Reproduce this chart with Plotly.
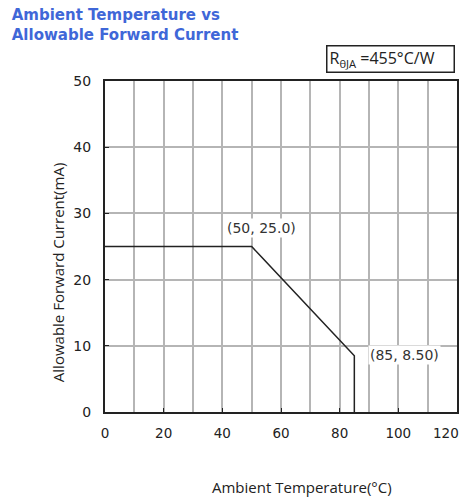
import plotly.graph_objects as go

temp = [0, 50, 85, 85]
current = [25.0, 25.0, 8.5, 0.0]
x_ticks = [0, 20, 40, 60, 80, 100, 120]
x_tick_labels = ["0", "20", "40", "60", "80", "100", "120"]
y_ticks = [0, 10, 20, 30, 40, 50]
point_labels = ["(50, 25.0)", "(85, 8.50)"]
point_x = [50, 85]
point_y = [25.0, 8.5]

fig = go.Figure()
fig.add_trace(go.Scatter(x=temp, y=current, mode="lines",
                         line=dict(color="#222222", width=1.5), showlegend=False))

fig.add_annotation(x=point_x[0], y=point_y[0], text=point_labels[0], showarrow=False,
                   xanchor="center", yanchor="middle", xshift=10, yshift=19,
                   font=dict(family="DejaVu Sans", size=14, color="#333"), bgcolor="white")
fig.add_annotation(x=point_x[1], y=point_y[1], text=point_labels[1], showarrow=False,
                   xanchor="left", yanchor="middle", xshift=14, yshift=1,
                   font=dict(family="DejaVu Sans", size=14, color="#333"), bgcolor="white")

# last x tick label drawn right-aligned so it stays inside the window
fig.add_annotation(x=x_ticks[-1], xref="x", yref="paper", y=0, text=x_tick_labels[-1], showarrow=False,
                   xanchor="right", yanchor="middle", xshift=4, yshift=-21,
                   font=dict(family="DejaVu Sans", size=13.5, color="#222"))

fig.add_annotation(xref="paper", yref="paper", x=0.9943, y=1.065, xanchor="right", yanchor="middle",
                   text="R<sub>θJA</sub> =455°C/W", showarrow=False,
                   font=dict(family="Open Sans", size=16, color="#222"),
                   bordercolor="#222", borderwidth=1.5, borderpad=2, bgcolor="white",
                   width=122, height=21, align="left")

fig.add_annotation(xref="paper", yref="paper", x=-0.133, y=0.42, xanchor="center", yanchor="middle",
                   text="Allowable Forward Current(mA)", textangle=-90, showarrow=False,
                   font=dict(family="Open Sans", size=15, color="#222"))

fig.add_annotation(xref="paper", yref="paper", x=0.56, y=-0.2266, xanchor="center", yanchor="middle",
                   text="Ambient Temperature(°C)", showarrow=False,
                   font=dict(family="Open Sans", size=15, color="#222"))

fig.update_layout(
    width=470, height=498,
    margin=dict(l=97, r=21, t=73, b=94),
    paper_bgcolor="white", plot_bgcolor="white",
    title=dict(text="Ambient Temperature vs<br>Allowable Forward Current",
               x=0.008, xanchor="left", y=0.975, yanchor="top",
               font=dict(family="DejaVu Sans", size=15, color="#3f67d8", weight="bold")),
    xaxis=dict(range=[0, 120], tickvals=x_ticks, ticktext=x_tick_labels[:-1] + [""],
               automargin=False,
               showgrid=True, gridcolor="#b5b5b5", gridwidth=1.5,
               minor=dict(dtick=10, showgrid=True, gridcolor="#b5b5b5", gridwidth=1.5),
               showline=True, linecolor="#222", linewidth=2, mirror=True,
               ticks="inside", ticklen=4, tickcolor="#222",
               ticklabelstandoff=8,
               tickfont=dict(family="DejaVu Sans", size=13.5, color="#222"),
               zeroline=False),
    yaxis=dict(range=[0, 50], tickvals=y_ticks, automargin=False,
               showgrid=True, gridcolor="#b5b5b5", gridwidth=1.5,
               showline=True, linecolor="#222", linewidth=2, mirror=True,
               ticks="inside", ticklen=4, tickcolor="#222",
               ticklabelstandoff=9,
               tickfont=dict(family="DejaVu Sans", size=14, color="#222"),
               zeroline=False),
)

fig.write_html("out.html")
